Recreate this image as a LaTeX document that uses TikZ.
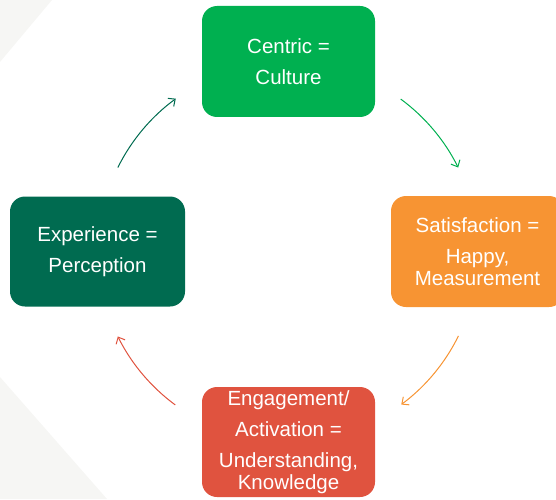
\documentclass[tikz,border=0pt]{standalone}
\usepackage{fontspec}
\setmainfont{Liberation Sans}
\usetikzlibrary{arrows.meta}
\definecolor{cgreen}{HTML}{00B050}
\definecolor{cdark}{HTML}{006B50}
\definecolor{corange}{HTML}{F79433}
\definecolor{cred}{HTML}{E0533F}
\definecolor{bggray}{HTML}{F6F6F4}
\begin{document}
\begin{tikzpicture}[x=1pt,y=1pt,line width=1pt,
	box/.style={rounded corners=15pt,minimum width=173pt,minimum height=111pt,
		text=white,align=center,inner sep=0pt,
		font=\fontsize{20.5}{21.5}\selectfont},
	arr/.style={-{Straight Barb[length=5.5pt,width=10pt]}}]
\useasboundingbox (0,0) rectangle (556,499);
\clip (0,0) rectangle (556,499);
\fill[bggray] (0,499) -- (52,499) -- (0,437) -- cycle;
\fill[bggray] (0,122) -- (107,0) -- (0,0) -- cycle;
\node[box,fill=cgreen] (centric) at (288.5,437.5) {Centric =\\[9pt]Culture};
\node[box,fill=corange] (satisf) at (477.5,247.5) {Satisfaction =\\[10pt]Happy,\\Measurement};
\node[box,fill=cred,minimum height=110pt] (engage) at (288.5,57) {Engagement/\\[9.5pt]Activation =\\[10pt]Understanding,\\Knowledge};
\node[box,fill=cdark,minimum width=175pt,minimum height=110pt] (exper) at (97.5,247.5) {Experience =\\[9pt]Perception};
\coordinate (c) at (288,247);
% cycle arrows
\draw[arr,cdark] ([shift={(c)}]153.6:190pt) arc[start angle=153.6,end angle=126.2,radius=190pt];
\draw[arr,cgreen] ([shift={(c)}]53.6:190pt) arc[start angle=53.6,end angle=26.4,radius=190pt];
\draw[arr,corange] ([shift={(c)}]-26.2:190pt) arc[start angle=-26.2,end angle=-53.4,radius=190pt];
\draw[arr,cred] ([shift={(c)}]-126.4:190pt) arc[start angle=-126.4,end angle=-153.6,radius=190pt];
\end{tikzpicture}
\end{document}
